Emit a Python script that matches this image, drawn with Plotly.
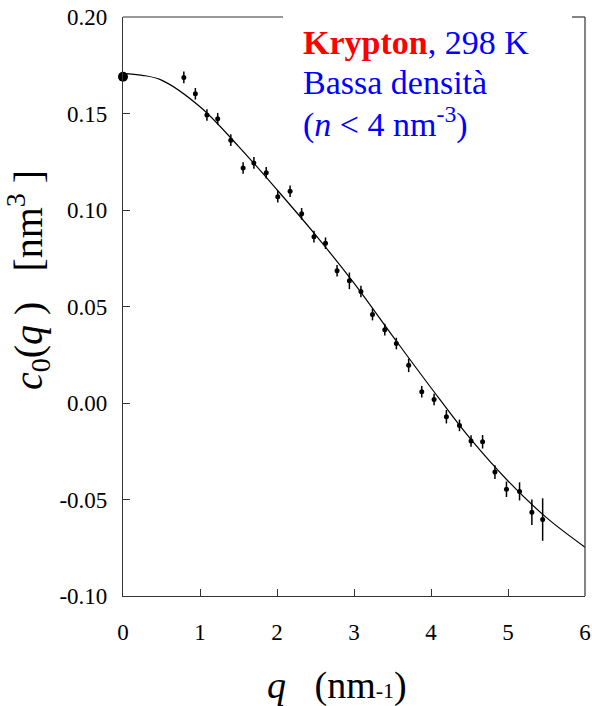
import plotly.graph_objects as go

# ---- data ----
q_data = [0.79, 0.94, 1.09, 1.23, 1.40, 1.56, 1.70, 1.86, 2.01, 2.17, 2.32,
          2.48, 2.63, 2.78, 2.94, 3.09, 3.24, 3.40, 3.55, 3.71, 3.88, 4.04,
          4.20, 4.37, 4.52, 4.67, 4.83, 4.98, 5.15, 5.31, 5.45]
c_data = [0.1687, 0.1602, 0.1492, 0.1473, 0.1362, 0.1218, 0.1244, 0.1193,
          0.1069, 0.1097, 0.0980, 0.0862, 0.0828, 0.0685, 0.0633, 0.0578,
          0.0458, 0.0380, 0.0308, 0.0195, 0.0058, 0.0018, -0.0071, -0.0116,
          -0.0197, -0.0201, -0.0358, -0.0447, -0.0458, -0.0566, -0.0604]
c_err = [0.003, 0.003, 0.003, 0.003, 0.003, 0.003, 0.003, 0.003, 0.003,
         0.003, 0.003, 0.003, 0.003, 0.003, 0.0043, 0.003, 0.003, 0.003,
         0.003, 0.0035, 0.003, 0.003, 0.0035, 0.003, 0.003, 0.0035, 0.0036,
         0.004, 0.0047, 0.0066, 0.011]

q_zero = [0.0]
c_zero = [0.169]

q_fit = [0.0, 0.25, 0.5, 1.0, 1.5, 2.0, 2.5, 3.0, 3.5, 4.0, 4.5, 5.0, 5.5, 6.0]
c_fit = [0.1707, 0.1698, 0.1673, 0.1535, 0.1330, 0.1105, 0.0871, 0.0621,
         0.0348, 0.0079, -0.0180, -0.0404, -0.0594, -0.0747]

x_ticks = [0, 1, 2, 3, 4, 5, 6]
y_ticks = [-0.10, -0.05, 0.00, 0.05, 0.10, 0.15, 0.20]
y_tick_text = ["-0.10", "-0.05", "0.00", "0.05", "0.10", "0.15", "0.20"]

# ---- layout geometry (pixels) ----
W, H = 592, 706
L, R, T, B = 123, 7, 17, 110
PW, PH = W - L - R, H - T - B


def px(x):
    return (x - L) / PW


def py(y):
    return (H - B - y) / PH


FONT = "Liberation Serif, Times New Roman, serif"
AX = "#333333"
SP = "\u00a0"

fig = go.Figure()

fig.add_trace(go.Scatter(
    x=q_fit, y=c_fit, mode="lines",
    line=dict(color="black", width=1.2, shape="spline", smoothing=1.0),
    hoverinfo="skip", showlegend=False))

fig.add_trace(go.Scatter(
    x=q_data, y=c_data, mode="markers",
    marker=dict(color="black", size=5),
    error_y=dict(type="data", array=c_err, color="black", thickness=1.5, width=0),
    showlegend=False))

fig.add_trace(go.Scatter(
    x=q_zero, y=c_zero, mode="markers",
    marker=dict(color="black", size=10),
    cliponaxis=False, showlegend=False))

fig.update_layout(
    width=W, height=H,
    margin=dict(l=L, r=R, t=T, b=B, pad=0),
    paper_bgcolor="white", plot_bgcolor="white",
    font=dict(family=FONT, color="black", size=23),
    xaxis=dict(range=[0, 6], tickvals=x_ticks, ticks="inside", ticklen=7,
               tickwidth=1.2, tickcolor=AX, showline=True, linecolor=AX,
               linewidth=1.2, showgrid=False, zeroline=False, automargin=False,
               tickfont=dict(size=23, family=FONT), ticklabelstandoff=15),
    yaxis=dict(range=[-0.10, 0.20], tickvals=y_ticks, ticktext=y_tick_text,
               ticks="inside", ticklen=7, tickwidth=1.2, tickcolor=AX,
               showline=True, linecolor=AX, linewidth=1.2, showgrid=False,
               zeroline=False, automargin=False,
               tickfont=dict(size=23, family=FONT), ticklabelstandoff=10),
)

# frame: right side and broken top line
fig.add_shape(type="line", xref="paper", yref="paper", x0=1, x1=1, y0=0, y1=1,
              line=dict(color=AX, width=1.2))
fig.add_shape(type="line", xref="paper", yref="paper", x0=0, x1=px(283), y0=1, y1=1,
              line=dict(color=AX, width=1.2))
fig.add_shape(type="line", xref="paper", yref="paper", x0=px(572), x1=1, y0=1, y1=1,
              line=dict(color=AX, width=1.2))

# axis titles
fig.add_annotation(
    xref="paper", yref="paper", x=px(28), y=py(280), showarrow=False,
    textangle=-90, xanchor="center", yanchor="middle",
    text="<i>c</i><sub>0</sub>(<i>q</i>" + SP + ")" + SP * 3 + "[nm<sup>3</sup>" + SP + "]",
    font=dict(family=FONT, size=40, color="black"))
fig.add_annotation(
    xref="paper", yref="paper", x=px(337), y=py(685), showarrow=False,
    xanchor="center", yanchor="middle",
    text="<i>q</i>" + SP * 3 + "(nm<span style='font-size:22px'>-1</span>)",
    font=dict(family=FONT, size=38, color="black"))

# legend-like text block
fig.add_annotation(
    xref="paper", yref="paper", x=px(301), y=py(43), showarrow=False,
    xanchor="left", yanchor="middle",
    text="<b><span style='color:red'>Krypton</span></b>, 298 K",
    font=dict(family=FONT, size=34, color="blue"))
fig.add_annotation(
    xref="paper", yref="paper", x=px(301), y=py(83), showarrow=False,
    xanchor="left", yanchor="middle",
    text="Bassa densità",
    font=dict(family=FONT, size=34, color="blue"))
fig.add_annotation(
    xref="paper", yref="paper", x=px(301), y=py(123), showarrow=False,
    xanchor="left", yanchor="middle",
    text="(<i>n</i> < 4 nm<sup>-3</sup>)",
    font=dict(family=FONT, size=34, color="blue"))

fig.write_html("out.html", config={"displayModeBar": False},
               post_script="document.body.style.margin='0';")
